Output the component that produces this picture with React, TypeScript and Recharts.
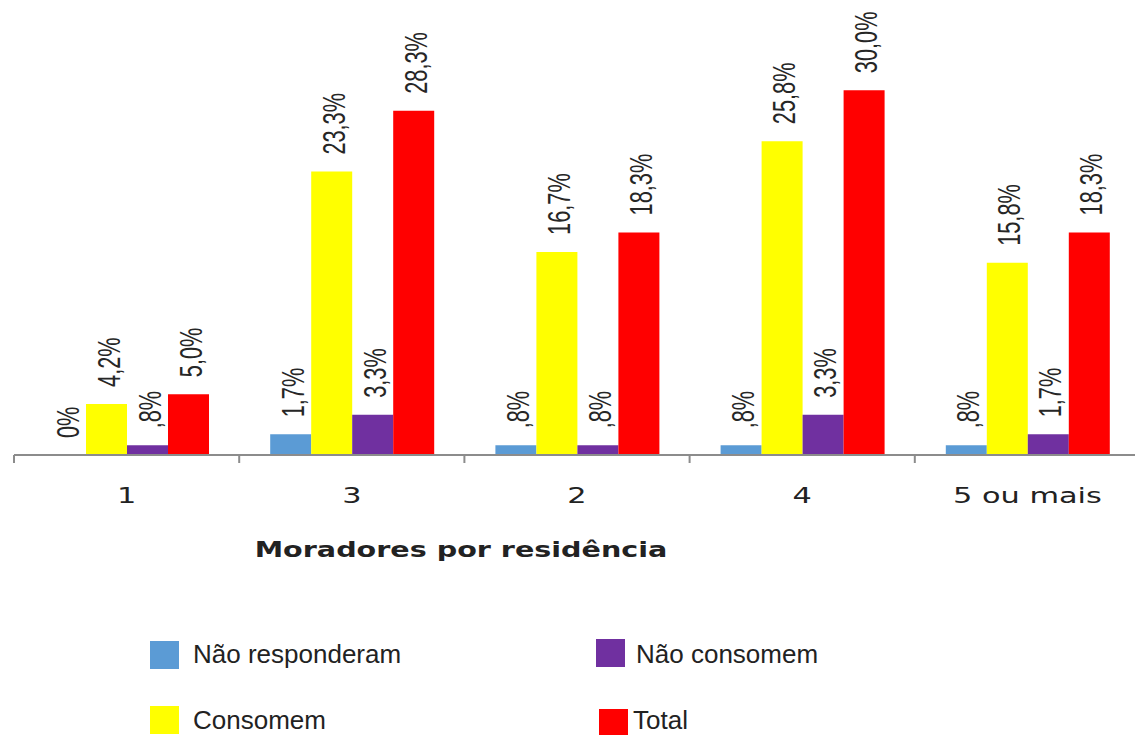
import { BarChart, Bar, XAxis, YAxis, LabelList } from 'recharts';

const categorias = ['1', '3', '2', '4', '5 ou mais'];
const naoResponderam = [0, 1.7, 0.8, 0.8, 0.8];
const consomem = [4.2, 23.3, 16.7, 25.8, 15.8];
const naoConsomem = [0.8, 3.3, 0.8, 3.3, 1.7];
const total = [5.0, 28.3, 18.3, 30.0, 18.3];

const series = [
  { key: 'naoResponderam', nome: 'Não responderam', cor: '#5B9BD5' },
  { key: 'consomem', nome: 'Consomem', cor: '#FFFF00' },
  { key: 'naoConsomem', nome: 'Não consomem', cor: '#7030A0' },
  { key: 'total', nome: 'Total', cor: '#FF0000' },
];

const dados = categorias.map((categoria, i) => ({
  categoria,
  naoResponderam: naoResponderam[i],
  consomem: consomem[i],
  naoConsomem: naoConsomem[i],
  total: total[i],
}));

const LARGURA = 1140;
const ALTURA = 735;
const MARGEM = { top: 5, right: 0, bottom: 220, left: 14 };
const LARGURA_BANDA = (LARGURA - MARGEM.left - MARGEM.right) / categorias.length;

// 0 -> "0%", 0.8 -> ",8%", 23.3 -> "23,3%"
function formatar(v: number): string {
  if (v === 0) return '0%';
  let s = v.toFixed(1).replace('.', ',');
  if (s.startsWith('0,')) s = s.substring(1);
  return s + '%';
}

// valores zerados ganham uma altura mínima invisível para manter o rótulo "0%"
const alturaMinima = (v: any) => (Number(v) === 0 ? 0.01 : 0);

const RotuloBarra = (props: any) => {
  const { x, y, width, value } = props;
  const cx = Number(x) + Number(width) / 2 + 13;
  const base = Number(y) - 17;
  return (
    <text
      transform={`translate(${cx},${base}) rotate(-90) scale(0.68,1)`}
      fontSize={32}
      fontFamily="'Liberation Sans', Arial, sans-serif"
      fill="#262626"
    >
      {formatar(Number(value))}
    </text>
  );
};

const TickCategoria = (props: any) => {
  const { x, y, payload, index } = props;
  const meia = payload && payload.offset ? payload.offset : LARGURA_BANDA / 2;
  return (
    <g>
      <line x1={x - meia} x2={x - meia} y1={y} y2={y + 8} stroke="#8c8c8c" strokeWidth={2} />
      {index === categorias.length - 1 && (
        <line x1={x + meia} x2={x + meia} y1={y} y2={y + 8} stroke="#8c8c8c" strokeWidth={2} />
      )}
      <text
        transform={`translate(${x},${y + 48}) scale(1.38,1)`}
        textAnchor="middle"
        fontSize={22}
        fontFamily="'DejaVu Sans', Verdana, sans-serif"
        fill="#222"
      >
        {payload.value}
      </text>
    </g>
  );
};

const legenda = [
  { ...series[0], x: 150, y: 641, tx: 193, ty: 663 },
  { ...series[2], x: 596, y: 639, tx: 636, ty: 663 },
  { ...series[1], x: 150, y: 706, tx: 193, ty: 729 },
  { ...series[3], x: 599, y: 709, tx: 633, ty: 729 },
];

export default function App() {
  return (
    <div
      style={{
        position: 'absolute',
        left: 0,
        top: 0,
        width: 1135,
        height: ALTURA,
        overflow: 'hidden',
        background: '#fff',
      }}
    >
      <BarChart
        width={LARGURA}
        height={ALTURA}
        data={dados}
        margin={MARGEM}
        barGap={0}
        barSize={41}
      >
        <XAxis
          dataKey="categoria"
          height={60}
          axisLine={{ stroke: '#8c8c8c', strokeWidth: 2 }}
          tickLine={false}
          tickSize={0}
          tickMargin={0}
          interval={0}
          tick={<TickCategoria />}
        />
        <YAxis hide domain={[0, 37]} />
        {series.map((s) => (
          <Bar
            key={s.key}
            dataKey={s.key}
            fill={s.cor}
            minPointSize={alturaMinima}
            isAnimationActive={false}
          >
            <LabelList dataKey={s.key} content={<RotuloBarra />} />
          </Bar>
        ))}
      </BarChart>
      <svg
        width={1135}
        height={ALTURA}
        style={{ position: 'absolute', left: 0, top: 0, pointerEvents: 'none' }}
      >
        <text
          transform="translate(461,557) scale(1.3,1)"
          textAnchor="middle"
          fontSize={22}
          fontWeight="bold"
          fontFamily="'DejaVu Sans', Verdana, sans-serif"
          fill="#222"
        >
          Moradores por residência
        </text>
        {legenda.map((item) => (
          <g key={item.key}>
            <rect x={item.x} y={item.y} width={29} height={28} fill={item.cor} />
            <text
              x={item.tx}
              y={item.ty}
              fontSize={26}
              fontFamily="'Liberation Sans', Arial, sans-serif"
              fill="#222"
            >
              {item.nome}
            </text>
          </g>
        ))}
      </svg>
    </div>
  );
}
